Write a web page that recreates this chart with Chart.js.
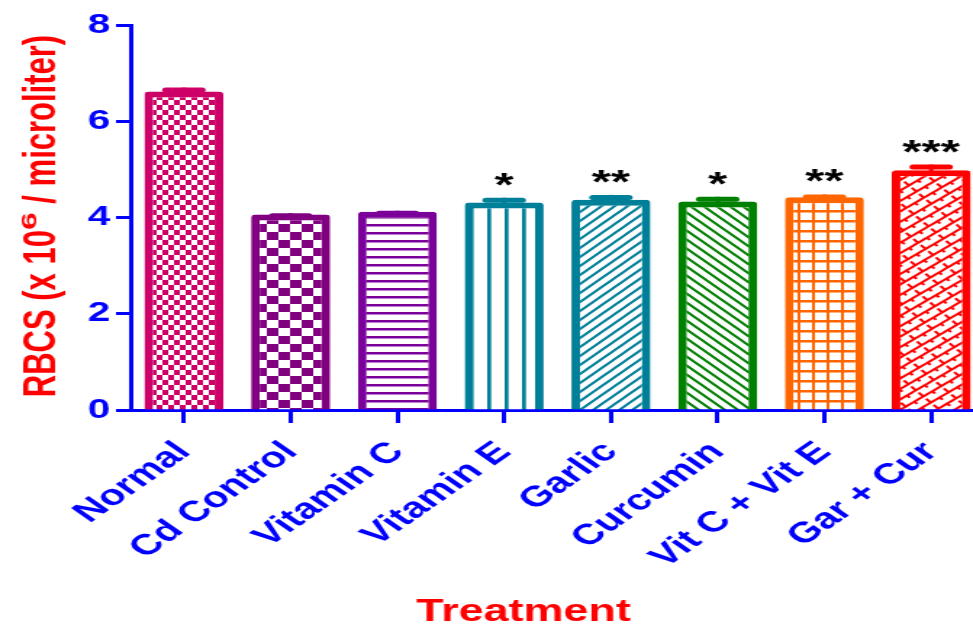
<!DOCTYPE html>
<html>
<head>
<meta charset="utf-8">
<script src="https://cdn.jsdelivr.net/npm/chart.js@4"></script>
<style>
  html, body { margin: 0; padding: 0; background: #fff; overflow: hidden; }
  #rbc { display: block; transform: scaleX(1.45); transform-origin: 0 0; }
</style>
</head>
<body>
<canvas id="rbc" width="690" height="626"></canvas>
<script>
const groups = ['Normal', 'Cd Control', 'Vitamin C', 'Vitamin E', 'Garlic', 'Curcumin', 'Vit C + Vit E', 'Gar + Cur'];
const rbcMean = [6.62, 4.06, 4.12, 4.31, 4.37, 4.33, 4.42, 4.98];
const rbcSem = [0.08, 0.03, 0.02, 0.1, 0.1, 0.1, 0.06, 0.12];
const stars = ['', '', '', '*', '**', '*', '**', '***'];
const yTicks = [0, 2, 4, 6, 8];

const barColors = ['#CC0066', '#800080', '#7A0099', '#007F99', '#007F99', '#008000', '#FF6600', '#FF0000'];
const FONT = "'Liberation Sans', Arial, sans-serif";

const canvas = document.getElementById('rbc');
const ctx = canvas.getContext('2d');

// small tile with white ground, drawn by fn, turned into a repeat pattern
function makePattern(w, h, color, fn, rotate) {
  const c = document.createElement('canvas');
  c.width = w; c.height = h;
  const g = c.getContext('2d');
  g.fillStyle = '#fff';
  g.fillRect(0, 0, w, h);
  g.fillStyle = color;
  g.strokeStyle = color;
  fn(g, w, h);
  const p = ctx.createPattern(c, 'repeat');
  if (rotate) p.setTransform(new DOMMatrix().rotateSelf(rotate));
  return p;
}

function checker(cw, ch) {
  return (g) => { g.fillRect(0, 0, cw, ch); g.fillRect(cw, ch, cw, ch); };
}

function diag(dir) {
  return (g, w, h) => {
    g.lineWidth = 2;
    g.beginPath();
    if (dir > 0) {
      g.moveTo(-2, h + 2); g.lineTo(w + 2, -2);
      g.moveTo(-2, 2); g.lineTo(2, -2);
      g.moveTo(w - 2, h + 2); g.lineTo(w + 2, h - 2);
    } else {
      g.moveTo(-2, -2); g.lineTo(w + 2, h + 2);
      g.moveTo(w - 2, -2); g.lineTo(w + 2, 2);
      g.moveTo(-2, h - 2); g.lineTo(2, h + 2);
    }
    g.stroke();
  };
}

const fills = [
  makePattern(8, 10, barColors[0], checker(4, 5)),
  makePattern(16, 16, barColors[1], checker(8, 8)),
  makePattern(4, 8, barColors[2], (g, w) => g.fillRect(0, 0, w, 2.5)),
  makePattern(12, 4, barColors[3], (g, w, h) => g.fillRect(0, 0, 2.7, h)),
  makePattern(9, 9, barColors[4], diag(1)),
  makePattern(9, 9, barColors[5], diag(-1)),
  makePattern(10, 10, barColors[6], (g, w, h) => { g.fillRect(0, 0, 2, h); g.fillRect(0, 0, w, 2.5); }),
  makePattern(16, 8, barColors[7], (g, w, h) => {
    g.fillRect(0, 0, w, 2);
    g.fillRect(0, 0, 2, h / 2);
    g.fillRect(w / 2, h / 2, 2, h / 2);
  }, -40)
];

// error caps, significance stars and the two axis titles
const extras = {
  id: 'extras',
  afterDatasetsDraw(chart) {
    const c = chart.ctx;
    const y = chart.scales.y;
    const bars = chart.getDatasetMeta(0).data;
    c.save();
    bars.forEach((bar, i) => {
      const top = y.getPixelForValue(rbcMean[i] + rbcSem[i]);
      c.fillStyle = barColors[i];
      c.fillRect(bar.x - 1.5, top, 3, bar.y - top + 3);
      c.beginPath();
      c.roundRect(bar.x - 15, top, 30, 5, 2.5);
      c.fill();
      if (stars[i]) {
        c.fillStyle = '#000';
        c.font = 'bold 34px ' + FONT;
        c.textAlign = 'center';
        c.textBaseline = 'alphabetic';
        c.fillText(stars[i], bar.x, top - 2);
      }
    });
    c.restore();
  },
  afterDraw(chart) {
    const c = chart.ctx;
    c.save();
    c.fillStyle = '#FF0000';

    // x title
    c.font = 'bold 31px ' + FONT;
    c.textAlign = 'center';
    c.textBaseline = 'middle';
    c.fillText('Treatment', 361, 612);

    // y title with superscript
    c.textAlign = 'left';
    c.textBaseline = 'alphabetic';
    c.translate(38, 216);
    c.rotate(-Math.PI / 2);
    const main = 'bold 31px ' + FONT;
    const a = 'RBCS (x 10', b = '6', d = ' / microliter)';
    c.font = main;
    const wa = c.measureText(a).width;
    const wd = c.measureText(d).width;
    c.font = 'bold 32px ' + FONT;
    const wb = c.measureText(b).width;
    let x = -(wa + wb + wd) / 2;
    c.font = main;
    c.fillText(a, x, 0);
    x += wa;
    c.save();
    c.translate(x, -13);
    c.scale(1, 0.45);
    c.font = 'bold 32px ' + FONT;
    c.fillText(b, 0, 0);
    c.restore();
    x += wb;
    c.font = main;
    c.fillText(d, x, 0);
    c.restore();
  }
};

new Chart(ctx, {
  type: 'bar',
  data: {
    labels: groups,
    datasets: [{
      data: rbcMean,
      backgroundColor: fills,
      borderColor: barColors,
      borderWidth: 6,
      borderRadius: { topLeft: 3, topRight: 3 },
      barPercentage: 0.74,
      categoryPercentage: 1
    }]
  },
  options: {
    responsive: false,
    animation: false,
    layout: { padding: { top: 25, right: 11, left: 0, bottom: 0 } },
    plugins: { legend: { display: false }, tooltip: { enabled: false } },
    scales: {
      x: {
        z: 1,
        afterFit: s => { s.height = 216; },
        grid: {
          offset: false,
          drawOnChartArea: false,
          drawTicks: true,
          tickLength: 13,
          tickWidth: 3,
          tickColor: '#0000FF'
        },
        border: { color: '#0000FF', width: 3 },
        ticks: {
          autoSkip: false,
          minRotation: 45,
          maxRotation: 45,
          padding: 12,
          color: '#0000FF',
          font: { family: FONT, size: 29, weight: 'bold' }
        }
      },
      y: {
        min: 0,
        max: 8,
        afterFit: s => { s.width = 90; },
        afterBuildTicks: s => { s.ticks = yTicks.map(v => ({ value: v })); },
        grid: {
          drawOnChartArea: false,
          drawTicks: true,
          tickLength: 10,
          tickWidth: 3,
          tickColor: '#0000FF'
        },
        border: { color: '#0000FF', width: 3 },
        ticks: {
          padding: 4,
          color: '#0000FF',
          font: { family: FONT, size: 28, weight: 'bold' }
        }
      }
    }
  },
  plugins: [extras]
});
</script>
</body>
</html>
